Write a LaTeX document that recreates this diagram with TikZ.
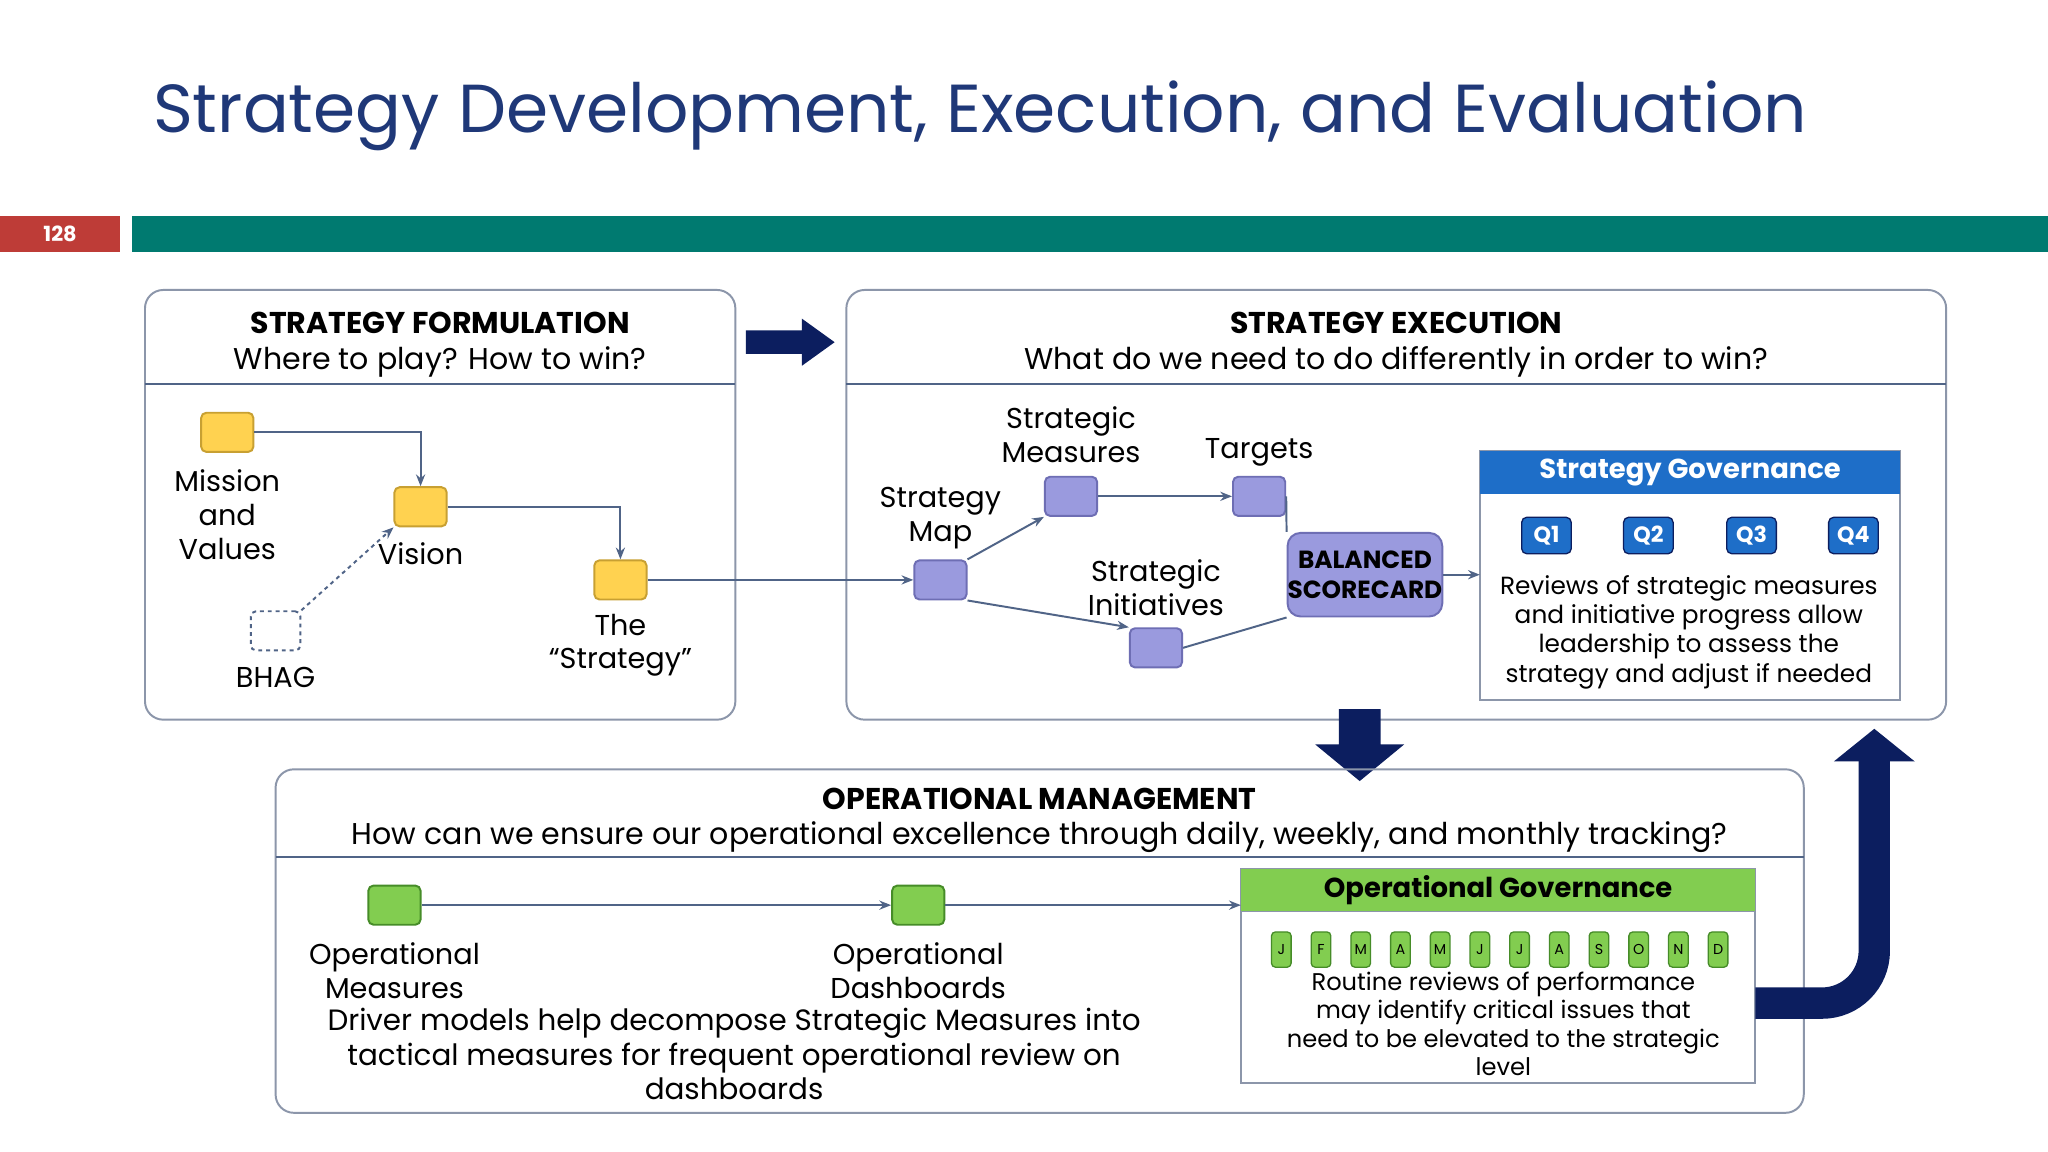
\documentclass[tikz,border=0pt]{standalone}
\usepackage{fontspec}
\setmainfont{Poppins}
\usetikzlibrary{arrows.meta}
\definecolor{navy}{RGB}{12,30,95}
\definecolor{ttl}{RGB}{31,56,120}
\definecolor{teal}{RGB}{0,122,112}
\definecolor{redb}{RGB}{190,60,55}
\definecolor{ln}{RGB}{80,100,135}
\definecolor{yel}{RGB}{255,210,80}
\definecolor{yelb}{RGB}{200,160,50}
\definecolor{pur}{RGB}{154,154,222}
\definecolor{purb}{RGB}{110,110,180}
\definecolor{grn}{RGB}{130,205,80}
\definecolor{grnb}{RGB}{70,140,40}
\definecolor{blu}{RGB}{30,110,200}
\definecolor{boxb}{RGB}{140,150,170}
\newcommand{\fsz}[1]{\fontsize{#1pt}{\the\dimexpr #1pt*118/100\relax}\selectfont}
\tikzset{
 panel/.style={draw=boxb,line width=1.5pt,rounded corners=14pt},
 sep/.style={draw=ln,line width=2pt},
 sq/.style={minimum width=40pt,minimum height=30pt,rounded corners=4pt,line width=1.5pt,inner sep=0pt},
 ysq/.style={sq,fill=yel,draw=yelb},
 psq/.style={sq,fill=pur,draw=purb},
 gsq/.style={sq,fill=grn,draw=grnb},
 con/.style={draw=ln,line width=1.5pt},
 arr/.style={con,-{Stealth[length=9pt,width=7pt]}},
 lbl/.style={align=center,font=\fsz{22},inner sep=0pt},
 hd/.style={align=center,font=\fsz{23},inner sep=0pt},
 qb/.style={fill=blu,draw=navy,line width=1pt,rounded corners=4pt,minimum width=38pt,minimum height=28pt,inner sep=0pt,text=white,font=\bfseries\fsz{17}},
 mb/.style={fill=grn,draw=grnb,line width=1pt,rounded corners=3pt,minimum width=15pt,minimum height=27pt,inner sep=0pt,font=\fsz{11}},
}
\begin{document}
\begin{tikzpicture}[x=1pt,y=-1pt]
\useasboundingbox[fill=white] (0,0) rectangle (1568,882);
\node[anchor=west,text=ttl,font=\fsz{52},inner sep=0pt] (title) at (117,89) {Strategy Development, Execution, and Evaluation};
\fill[redb] (0,165) rectangle (92,193);
\node[text=white,font=\bfseries\fsz{16},inner sep=0pt] (pg) at (46,179) {128};
\fill[teal] (101,165) rectangle (1568,193);
% panel 1
\draw[panel] (111,222) rectangle (563,551);
\draw[sep] (111,294) -- (563,294);
\node[hd] (h1) at (337,264) {\textbf{STRATEGY FORMULATION}\\Where to play? How to win?};
% panel 2
\draw[panel] (648,222) rectangle (1490,551);
\draw[sep] (648,294) -- (1490,294);
\node[hd] (h2) at (1069,264) {\textbf{STRATEGY EXECUTION}\\What do we need to do differently in order to win?};
% arrow right
\fill[navy] (571,253) -- (614,253) -- (614,244) -- (639,262) -- (614,280) -- (614,271) -- (571,271) -- cycle;
% formulation
\node[ysq] (mis) at (174,331) {};
\node[ysq] (vis) at (322,388) {};
\node[ysq] (str) at (475,444) {};
\node[sq,draw=ln,dashed,minimum width=38pt] (bhag) at (211,483) {};
\draw[arr] (mis.east) -| (vis.north);
\draw[arr] (vis.east) -| (str.north);
\draw[arr,dashed] (bhag.north east) -- (vis.south west);
\node[lbl] at (174,394) {Mission\\and\\Values};
\node[lbl] at (322,424) {Vision};
\node[lbl] at (211,519) {BHAG};
\node[lbl] at (475,494) {The\\“Strategy”};
% execution
\node[psq] (map) at (720,444) {};
\node[psq] (mea) at (820,380) {};
\node[psq] (tar) at (964,380) {};
\node[psq] (ini) at (885,496) {};
\node[fill=pur,draw=purb,line width=1.5pt,rounded corners=10pt,minimum width=116pt,minimum height=64pt,align=center,font=\bfseries\fsz{19},inner sep=0pt] (bsc) at (1045,440) {BALANCED\\SCORECARD};
\draw[arr] (str.east) -- (map.west);
\draw[arr] (map.north east) -- (mea.south west);
\draw[arr] (map.south east) -- (ini.north west);
\draw[arr] (mea.east) -- (tar.west);
\draw[con] (tar.east) -- (bsc.north west);
\draw[con] (ini.east) -- (bsc.south west);
\node[lbl] at (820,333) {Strategic\\Measures};
\node[lbl] at (964,346) {Targets};
\node[lbl] at (720,397) {Strategy\\Map};
\node[lbl] at (885,450) {Strategic\\Initiatives};
% strategy governance
\draw[draw=boxb,line width=1.5pt,fill=white] (1133,345) rectangle (1455,536);
\node[fill=blu,minimum width=322pt,minimum height=33pt,inner sep=0pt,text=white,font=\bfseries\fsz{21}] (sg) at (1294,361.5) {Strategy Governance};
\coordinate (sgl) at (1133,440);
\draw[arr] (bsc.east) -- (sgl);
\node[qb] (q1) at (1184,410) {Q1};
\node[qb] (q2) at (1262,410) {Q2};
\node[qb] (q3) at (1341,410) {Q3};
\node[qb] (q4) at (1419,410) {Q4};
\node[lbl,font=\fsz{19}] at (1293,484) {Reviews of strategic measures\\and initiative progress allow\\leadership to assess the\\strategy and adjust if needed};
% down arrow
\fill[navy] (1025,543) -- (1057,543) -- (1057,570) -- (1075,570) -- (1041,598) -- (1007,570) -- (1025,570) -- cycle;
% panel 3
\draw[panel] (211,589) rectangle (1381,852);
\draw[sep] (211,656) -- (1381,656);
\node[hd] (h3) at (796,628) {\textbf{OPERATIONAL MANAGEMENT}\\How can we ensure our operational excellence through daily, weekly, and monthly tracking?};
\node[gsq] (om) at (302,693) {};
\node[gsq] (od) at (703,693) {};
\draw[draw=boxb,line width=1.5pt,fill=white] (950,665) rectangle (1344,829);
\node[fill=grn,draw=boxb,line width=1pt,minimum width=394pt,minimum height=33pt,inner sep=0pt,font=\bfseries\fsz{21}] (og) at (1147,681.5) {Operational Governance};
\coordinate (ogl) at (950,693);
\draw[arr] (om.east) -- (od.west);
\draw[arr] (od.east) -- (ogl);
\node[lbl] at (302,743) {Operational\\Measures};
\node[lbl] at (703,743) {Operational\\Dashboards};
\node[lbl,font=\fsz{22.5}] at (562,807) {Driver models help decompose Strategic Measures into\\tactical measures for frequent operational review on\\dashboards};
\foreach \m [count=\i from 0] in {J,F,M,A,M,J,J,A,S,O,N,D}
  \node[mb] (m\i) at (981+\i*30.4,727) {\m};
\node[lbl,font=\fsz{18.5}] at (1151,784) {Routine reviews of performance\\may identify critical issues that\\need to be elevated to the strategic\\level};
% U arrow
\draw[navy,line width=24pt] (1344,768) -- (1395,768) arc[start angle=90,end angle=0,radius=40] -- (1435,580);
\fill[navy] (1404,583) -- (1466,583) -- (1435,558) -- cycle;
\end{tikzpicture}
\end{document}
